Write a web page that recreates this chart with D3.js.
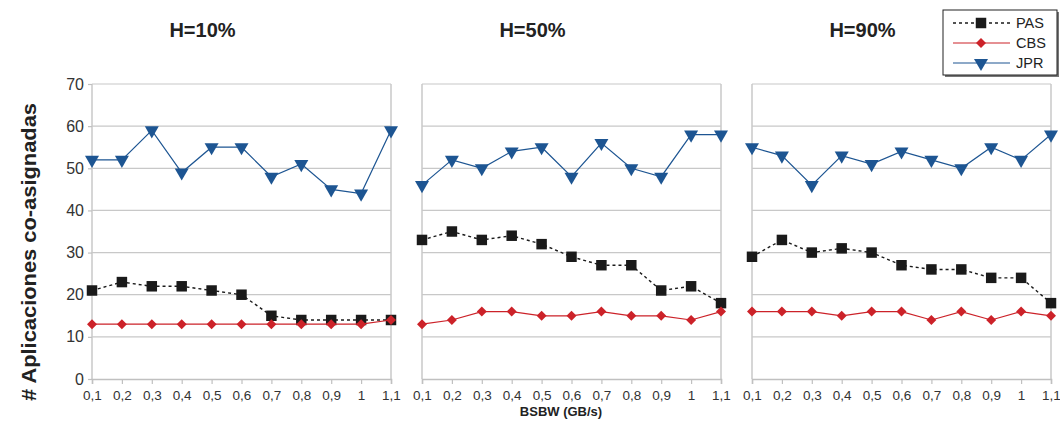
<!DOCTYPE html>
<html><head><meta charset="utf-8">
<script src="https://cdn.jsdelivr.net/npm/d3@7"></script>
<style>body{margin:0;background:#fff;}svg{display:block;font-family:"Liberation Sans",Arial,sans-serif;}</style>
</head><body><svg id="c" width="1060" height="422"></svg>
<script>
const categories = ["0,1","0,2","0,3","0,4","0,5","0,6","0,7","0,8","0,9","1","1,1"];
const panelTitles = ["H=10%","H=50%","H=90%"];
const yTicks = [0,10,20,30,40,50,60,70];
const seriesNames = ["PAS","CBS","JPR"];
const pas10 = [21,23,22,22,21,20,15,14,14,14,14];
const cbs10 = [13,13,13,13,13,13,13,13,13,13,14];
const jpr10 = [52,52,59,49,55,55,48,51,45,44,59];
const pas50 = [33,35,33,34,32,29,27,27,21,22,18];
const cbs50 = [13,14,16,16,15,15,16,15,15,14,16];
const jpr50 = [46,52,50,54,55,48,56,50,48,58,58];
const pas90 = [29,33,30,31,30,27,26,26,24,24,18];
const cbs90 = [16,16,16,15,16,16,14,16,14,16,15];
const jpr90 = [55,53,46,53,51,54,52,50,55,52,58];
const panelData = [[pas10,cbs10,jpr10],[pas50,cbs50,jpr50],[pas90,cbs90,jpr90]];

const style = {
  PAS:{color:"#1a1a1a", dash:"3,3", symbol:d3.symbolSquare, size:110, rot:0},
  CBS:{color:"#cc2229", dash:null, symbol:d3.symbolSquare, size:50, rot:45},
  JPR:{color:"#1d5592", dash:null, symbol:d3.symbolTriangle, size:85, rot:180}
};
const svg = d3.select("#c");
const panelX = [92, 422, 752];
const pw = 299;
const y = d3.scaleLinear().domain([0,70]).range([379,84]);

panelX.forEach((px,pi)=>{
  const x = d3.scalePoint().domain(categories).range([px, px+pw]);
  const g = svg.append("g");
  g.selectAll(".grid").data(yTicks.slice(1)).join("line")
    .attr("x1",px).attr("x2",px+pw).attr("y1",d=>y(d)).attr("y2",d=>y(d))
    .attr("stroke","#c8c8c8").attr("stroke-width",1.2);
  g.append("line").attr("x1",px).attr("x2",px).attr("y1",y(70)).attr("y2",y(0)).attr("stroke","#c8c8c8").attr("stroke-width",1.5);
  g.append("line").attr("x1",px+pw).attr("x2",px+pw).attr("y1",y(70)).attr("y2",y(0)).attr("stroke","#c8c8c8").attr("stroke-width",1.5);
  const xa = g.append("g").attr("transform",`translate(0,${y(0)})`)
    .call(d3.axisBottom(x).tickSize(5).tickPadding(6));
  xa.select(".domain").attr("stroke","#c0c0c0").attr("stroke-width",1.5);
  xa.selectAll(".tick line").attr("stroke","#c0c0c0").attr("stroke-width",1.2);
  xa.selectAll("text").attr("font-size",13.5).attr("fill","#333").attr("font-family","Liberation Sans, Arial, sans-serif");
  if(pi===0){
    const ya = g.append("g").attr("transform",`translate(${px},0)`)
      .call(d3.axisLeft(y).tickValues(yTicks).tickSize(4).tickPadding(4));
    ya.select(".domain").remove();
    ya.selectAll(".tick line").attr("stroke","#c0c0c0").attr("stroke-width",1.2);
    ya.selectAll("text").attr("font-size",16).attr("fill","#333").attr("font-family","Liberation Sans, Arial, sans-serif");
  }
  svg.append("text").attr("x",px+pw/2-39).attr("y",37).attr("text-anchor","middle")
    .attr("font-size",20).attr("font-weight","bold").attr("fill","#222").text(panelTitles[pi]);
  seriesNames.forEach((name,si)=>{
    const vals = panelData[pi][si];
    const st = style[name];
    const line = d3.line().x((d,i)=>x(categories[i])).y(d=>y(d));
    g.append("path").datum(vals).attr("d",line).attr("fill","none")
      .attr("stroke",st.color).attr("stroke-width",name==="PAS"?1.4:1.2)
      .attr("stroke-dasharray",st.dash);
    g.selectAll(".m"+name).data(vals).join("path")
      .attr("d",d3.symbol().type(st.symbol).size(st.size))
      .attr("transform",(d,i)=>`translate(${x(categories[i])},${y(d)}) rotate(${st.rot})`)
      .attr("fill",st.color);
  });
});

svg.append("text").attr("transform","translate(36,252) rotate(-90)").attr("text-anchor","middle")
  .attr("font-size",20).attr("font-weight","bold").attr("fill","#222")
  .attr("textLength",298).attr("lengthAdjust","spacingAndGlyphs").text("# Aplicaciones co-asignadas");
svg.append("text").attr("x",561).attr("y",416).attr("text-anchor","middle")
  .attr("font-size",13).attr("font-weight","bold").attr("fill","#222").text("BSBW (GB/s)");

const lg = svg.append("g");
lg.append("rect").attr("x",945).attr("y",12).attr("width",114).attr("height",65).attr("fill","#777");
lg.append("rect").attr("x",943).attr("y",10).attr("width",114).attr("height",65).attr("fill","#fff").attr("stroke","#222").attr("stroke-width",1);
seriesNames.forEach((name,i)=>{
  const st = style[name];
  const yy = 23 + i*20;
  lg.append("line").attr("x1",953).attr("x2",1010).attr("y1",yy).attr("y2",yy)
    .attr("stroke",st.color).attr("stroke-width",name==="PAS"?1.4:1.2).attr("stroke-dasharray",st.dash);
  lg.append("path").attr("d",d3.symbol().type(st.symbol).size(st.size))
    .attr("transform",`translate(981,${yy}) rotate(${st.rot})`).attr("fill",st.color);
  lg.append("text").attr("x",1016).attr("y",yy+5).attr("font-size",14.5).attr("fill","#222").text(name);
});
</script></body></html>
